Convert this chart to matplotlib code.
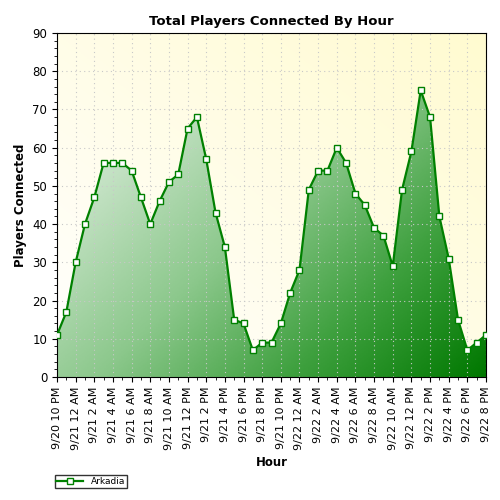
import numpy as np
import matplotlib
matplotlib.use("Agg")
import matplotlib.pyplot as plt
from matplotlib.colors import LinearSegmentedColormap

values = [11,17,30,40,47,56,56,56,54,47,40,46,51,53,65,68,57,43,34,15,14,7,9,9,14,22,28,49,54,54,60,56,48,45,39,37,29,49,59,75,68,42,31,15,7,9,11]
tick_labels = ["9/20 10 PM","9/21 12 AM","9/21 2 AM","9/21 4 AM","9/21 6 AM","9/21 8 AM","9/21 10 AM","9/21 12 PM","9/21 2 PM","9/21 4 PM","9/21 6 PM","9/21 8 PM","9/21 10 PM","9/22 12 AM","9/22 2 AM","9/22 4 AM","9/22 6 AM","9/22 8 AM","9/22 10 AM","9/22 12 PM","9/22 2 PM","9/22 4 PM","9/22 6 PM","9/22 8 PM"]
series_name = "Arkadia"

x = np.arange(len(values))
fig = plt.figure(figsize=(5,5), dpi=100)
ax = fig.add_axes([0.114, 0.246, 0.858, 0.688])
xmax = len(values)-1
ax.set_xlim(0, xmax); ax.set_ylim(0, 90)

bg = LinearSegmentedColormap.from_list("bg", ["#ffffff", "#fffbd0"])
gx, gy = np.meshgrid(np.linspace(0,1,200), np.linspace(0,1,200))
ax.imshow(gx*0.5+gy*0.5, cmap=bg, extent=[0,xmax,0,90], origin="lower", aspect="auto", zorder=0)

fg = LinearSegmentedColormap.from_list("fg", ["#e8f4e8", "#c4e2c4", "#8cc88c", "#3ea03e", "#007800"])
poly = ax.fill_between(x, values, 0, facecolor="none", edgecolor="none")
im = ax.imshow(gx*0.55+(1-gy)*0.45, cmap=fg, extent=[0,xmax,0,90], origin="lower", aspect="auto", zorder=1)
im.set_clip_path(poly.get_paths()[0], transform=ax.transData)

ax.plot(x, values, color="#008000", lw=1.6, marker="s", ms=5, mfc="white", mec="#008000", mew=1, zorder=3, label=series_name)

ax.set_yticks(range(0, 91, 10))
ax.set_yticks(range(0, 91, 2), minor=True)
ax.set_xticks(x[::2])
ax.set_xticklabels(tick_labels, rotation=90, fontsize=8)
ax.set_xticks(x, minor=True)
ax.tick_params(axis="y", labelsize=8.5)
ax.grid(True, which="major", color="#c8c8c8", ls=(0,(1,3)), lw=0.8)
for g in ax.get_xgridlines()+ax.get_ygridlines():
    g.set_zorder(0.5)
ax.set_title("Total Players Connected By Hour", fontsize=9.5, fontweight="bold")
ax.set_xlabel("Hour", fontsize=8.5, fontweight="bold")
ax.set_ylabel("Players Connected", fontsize=8.5, fontweight="bold")
fig.legend(loc="lower left", bbox_to_anchor=(0.1, 0.015), fontsize=6.5, frameon=True, fancybox=False, edgecolor="black", borderpad=0.2, handlelength=3)
fig.savefig("out.png", dpi=100)
